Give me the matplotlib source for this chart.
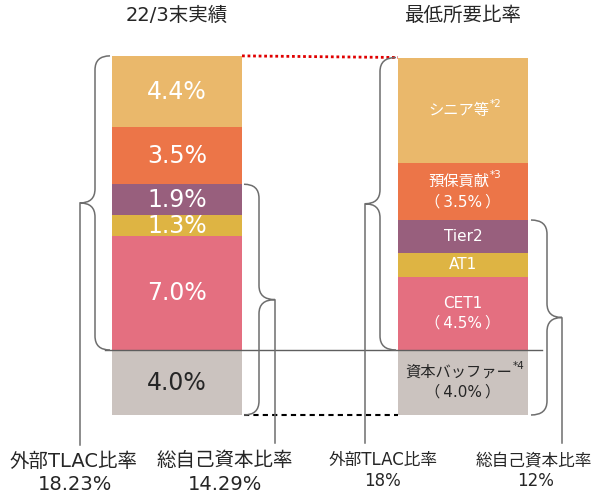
import numpy as np
import matplotlib.pyplot as plt
from matplotlib.path import Path
from matplotlib.patches import PathPatch

plt.rcParams['font.family'] = ['DejaVu Sans', 'Noto Sans CJK JP']

# Actual ratios at end of 22/3 (bottom to top)
actual_values = [4.0, 7.0, 1.3, 1.9, 3.5, 4.4]
actual_labels = ['4.0%', '7.0%', '1.3%', '1.9%', '3.5%', '4.4%']

# Minimum required ratios (bottom to top)
required_values = [4.0, 4.5, 1.5, 2.0, 3.5, 6.5]
required_labels = [['資本バッファー', '（\u20094.0%\u2009）'], ['CET1', '（\u20094.5%\u2009）'], ['AT1'],
                   ['Tier2'], ['預保貢献', '（\u20093.5%\u2009）'], ['シニア等']]
required_notes = ['*4', '', '', '', '*3', '*2']

colors = ['#CBC3BF', '#E46F80', '#DEB443', '#985F7D', '#EC7548', '#EAB86B']
text_colors = ['#262626', 'white', 'white', 'white', 'white', 'white']

titles = ['22/3末実績', '最低所要比率']
tlac_ratio = ['18.23%', '18%']
total_ratio = ['14.29%', '12%']

PX = 16.25          # pixels per percentage point
BASE = 415          # pixel row of the zero line
DARK = '#262626'


def yv(py):
    return (BASE - py) / PX


fig = plt.figure(figsize=(5.99, 4.95), dpi=100)
ax = fig.add_axes([0, 0, 1, 1])
ax.set_xlim(0, 599)
ax.set_ylim(yv(495), yv(0))
ax.axis('off')

x_left, x_right, bar_w = 177, 463, 130

# stacked bars
act_bottom = np.concatenate([[0], np.cumsum(actual_values)[:-1]])
req_bottom = np.concatenate([[0], np.cumsum(required_values)[:-1]])
ax.bar([x_left] * 6, actual_values, bar_w, bottom=act_bottom, color=colors, zorder=2)
ax.bar([x_right] * 6, required_values, bar_w, bottom=req_bottom, color=colors, zorder=2)

for v, b, lab, tc in zip(actual_values, act_bottom, actual_labels, text_colors):
    ax.text(x_left, b + v / 2, lab, ha='center', va='center', color=tc,
            fontsize=17, zorder=3)

gap = 10 / PX
for v, b, lines, note, tc in zip(required_values, req_bottom, required_labels,
                                 required_notes, text_colors):
    c = b + v / 2
    ys = [c] if len(lines) == 1 else [c + gap, c - gap]
    for i, (line, y) in enumerate(zip(lines, ys)):
        shift = -4 if (i == 0 and note) else 0
        t = ax.text(x_right + shift, y, line, ha='center', va='center', color=tc,
                    fontsize=11, zorder=3)
        if i == 0 and note:
            ax.annotate(note, xy=(1, 0.62), xycoords=t, ha='left', va='bottom',
                        color=tc, fontsize=7.5, zorder=3)


def brace(x_end, x_mid, x_tip, y_top, y_bot, r_px=14, y_end=None):
    r = r_px / PX
    ym = (y_top + y_bot) / 2
    verts = [(x_end, y_top), (x_mid, y_top), (x_mid, y_top - r),
             (x_mid, ym + r), (x_mid, ym), (x_tip, ym),
             (x_mid, ym), (x_mid, ym - r),
             (x_mid, y_bot + r), (x_mid, y_bot), (x_end, y_bot)]
    codes = [Path.MOVETO, Path.CURVE3, Path.CURVE3, Path.LINETO,
             Path.CURVE3, Path.CURVE3, Path.CURVE3, Path.CURVE3,
             Path.LINETO, Path.CURVE3, Path.CURVE3]
    ax.add_patch(PathPatch(Path(verts, codes), fill=False, edgecolor='#6E6E6E',
                           lw=1.1, zorder=4))
    # leader line down to the label
    ax.plot([x_tip, x_tip], [ym, y_end], color='#6E6E6E', lw=1.1, zorder=4)


act_top = sum(actual_values)
req_top = sum(required_values)
act_cap = sum(actual_values[:4])
req_cap = sum(required_values[:4])

brace(110, 95, 80, act_top, actual_values[0], y_end=yv(445))
brace(244, 259, 275, act_cap, 0, y_end=yv(443))
brace(396, 380, 365, req_top, required_values[0], y_end=yv(443))
brace(531, 547, 562, req_cap, 0, y_end=yv(443))

# reference lines
ax.plot([105, 542], [actual_values[0]] * 2, color='#5E5E5E', lw=1.0, zorder=3)
ax.plot([244, x_right - bar_w / 2], [0, 0], color='black', lw=1.5,
        linestyle=(0, (2.5, 2)), zorder=3)
ax.plot([x_left + bar_w / 2, x_right - bar_w / 2], [act_top, req_top],
        color='#E00000', lw=2, linestyle=(0, (1, 1)), zorder=3)

# titles
ax.text(x_left, yv(15), titles[0], ha='center', va='center', fontsize=14, color=DARK)
ax.text(x_right, yv(15), titles[1], ha='center', va='center', fontsize=14, color=DARK)

# bottom labels
ax.text(74, yv(461), '外部TLAC比率', ha='center', va='center', fontsize=14, color=DARK)
ax.text(75, yv(484), tlac_ratio[0], ha='center', va='center', fontsize=14, color=DARK)
ax.text(225, yv(461), '総自己資本比率', ha='center', va='center', fontsize=14, color=DARK)
ax.text(225, yv(484), total_ratio[0], ha='center', va='center', fontsize=14, color=DARK)
ax.text(383, yv(460), '外部TLAC比率', ha='center', va='center', fontsize=12, color=DARK)
ax.text(383, yv(481), tlac_ratio[1], ha='center', va='center', fontsize=12, color=DARK)
ax.text(534, yv(460), '総自己資本比率', ha='center', va='center', fontsize=12, color=DARK)
ax.text(536, yv(481), total_ratio[1], ha='center', va='center', fontsize=12, color=DARK)

fig.savefig('out.png', dpi=100)
